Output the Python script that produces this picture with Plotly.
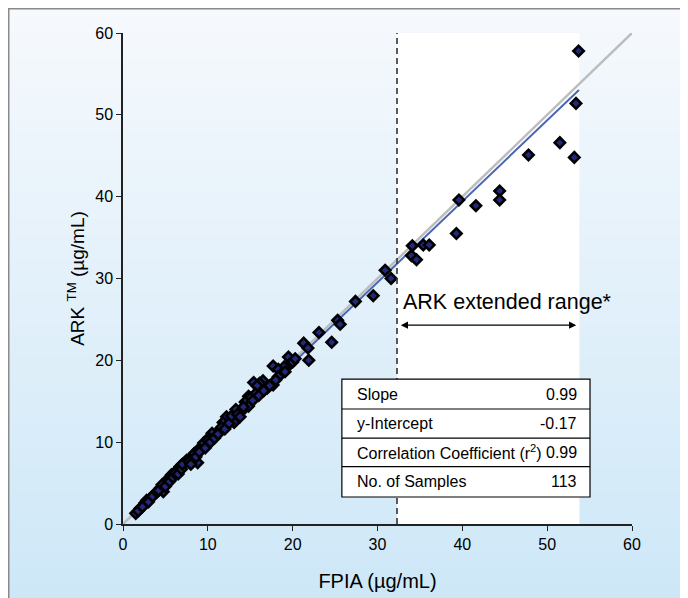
import plotly.graph_objects as go

# ---- data ----
fpia = [53.7, 53.4, 51.5, 53.2, 47.8, 39.6, 41.6, 44.4, 44.4, 39.3, 34.1, 35.4, 36.1, 34.0, 34.6,
        30.9, 31.6, 29.5, 27.4, 25.3, 25.6, 23.1, 24.6, 21.3, 21.8, 21.9,
        19.5, 19.7, 19.0, 17.7, 18.3, 18.7, 18.3, 17.7, 16.5, 16.1, 17.0, 15.4, 15.8, 14.8, 15.6,
        15.0, 14.4, 14.8, 14.1, 13.3,
        12.2, 13.1, 11.8, 11.4, 11.0, 10.5, 10.1, 9.9, 9.3, 8.8, 8.8, 8.1, 7.5, 7.2, 6.7, 6.3, 5.7,
        5.3, 5.1, 4.75, 4.4, 3.8, 3.2, 2.6, 2.0, 1.5,
        1.8, 2.3, 2.8, 3.0, 3.5, 4.0, 4.2, 4.6, 5.0, 5.5, 5.9, 6.1, 6.5, 6.9, 7.0, 7.8, 8.0, 8.4,
        8.6, 9.0, 9.5, 9.7, 10.0, 10.3, 10.8, 11.2, 11.6, 12.0, 12.5, 12.8, 13.5, 13.8, 14.2, 15.3,
        16.0, 16.6, 17.3, 18.0, 19.1, 20.0, 20.3]
ark = [57.8, 51.4, 46.6, 44.8, 45.1, 39.6, 38.9, 40.7, 39.6, 35.5, 34.0, 34.1, 34.1, 32.8, 32.3,
       31.0, 30.0, 27.9, 27.2, 24.9, 24.4, 23.4, 22.2, 22.1, 21.5, 20.0,
       20.4, 19.55, 19.2, 19.3, 18.9, 18.4, 18.0, 17.0, 17.5, 17.2, 16.6, 17.3, 16.9, 15.6, 15.9,
       15.4, 14.9, 14.4, 13.9, 14.0,
       13.1, 12.4, 12.4, 11.5, 10.9, 11.1, 10.5, 9.7, 9.25, 9.0, 7.5, 8.2, 7.8, 7.4, 7.0, 6.5, 6.0,
       5.5, 5.0, 3.95, 4.4, 3.75, 3.1, 2.6, 1.9, 1.3,
       1.6, 2.1, 2.9, 2.7, 3.4, 3.9, 4.1, 4.8, 4.6, 5.2, 5.7, 6.2, 6.1, 6.7, 7.3, 7.6, 7.3, 8.6,
       8.2, 8.8, 9.9, 9.3, 10.2, 10.0, 10.5, 11.0, 11.8, 11.6, 12.3, 13.2, 13.4, 13.1, 14.3, 15.1,
       15.7, 16.3, 16.9, 17.6, 18.6, 19.8, 20.2]

identity_x = [0, 60]
identity_y = [0, 60]
fit_x = [1.3, 53.75]
fit_y = [1.117, 53.04]

extended_range = [32.3, 53.8]

table_labels = ["Slope", "y-Intercept", "Correlation Coefficient (r<sup>2</sup>)", "No. of Samples"]
table_values = ["0.99", "-0.17", "0.99", "113"]

x_ticks = [0, 10, 20, 30, 40, 50, 60]
y_ticks = [0, 10, 20, 30, 40, 50, 60]

FONT = "Liberation Sans, Arial, sans-serif"

W, H = 688, 598
# page body adds an 8px offset; margins compensate so the plot lands where the reference has it
L, R, T, B = 115, 64, 25, 82
PW, PH = W - L - R, H - T - B

fig = go.Figure()

fig.add_trace(go.Scatter(x=identity_x, y=identity_y, mode="lines",
                         line=dict(color="#bdbdbd", width=2.5), hoverinfo="skip"))
fig.add_trace(go.Scatter(x=fit_x, y=fit_y, mode="lines",
                         line=dict(color="#4a67b5", width=2), hoverinfo="skip"))
fig.add_trace(go.Scatter(x=fpia, y=ark, mode="markers",
                         marker=dict(symbol="diamond", size=8, color="#23287a",
                                     line=dict(color="black", width=2.6)),
                         cliponaxis=False))

shapes = []
# background gradient (figure-wide bands)
top_c = (246, 249, 253)
bot_c = (205, 231, 247)
N = 150
py0 = -B / PH
py1 = 1 + T / PH
for i in range(N):
    f = i / (N - 1)
    c = tuple(round(bot_c[k] + (top_c[k] - bot_c[k]) * f) for k in range(3))
    y0 = py0 + (py1 - py0) * i / N
    y1 = py0 + (py1 - py0) * (i + 1) / N + 0.002
    shapes.append(dict(type="rect", xref="paper", yref="paper",
                       x0=-L / PW, x1=1 + R / PW, y0=y0, y1=y1,
                       fillcolor="rgb(%d,%d,%d)" % c, line=dict(width=0), layer="below"))
# white extended-range region
shapes.append(dict(type="rect", xref="x", yref="y", x0=extended_range[0], x1=extended_range[1],
                   y0=0, y1=60, fillcolor="white", line=dict(width=0), layer="below"))
# dashed line
shapes.append(dict(type="line", xref="x", yref="y", x0=extended_range[0], x1=extended_range[0],
                   y0=0, y1=60, line=dict(color="#333333", width=1.6, dash="6px,4px"), layer="above"))
# outer frame (left and top edges visible)
shapes.append(dict(type="rect", xref="paper", yref="paper",
                   x0=(0.75 - L) / PW, x1=1 + (R + 20) / PW,
                   y0=-(B + 20) / PH, y1=(H - B - 0.75) / PH,
                   line=dict(color="#8a8a8a", width=1.5), fillcolor="rgba(0,0,0,0)", layer="above"))

# table
tx0, tx1 = 25.8, 55.05
row_edges = [17.7, 14.05, 10.5, 7.0, 3.3]
shapes.append(dict(type="rect", xref="x", yref="y", x0=tx0, x1=tx1, y0=row_edges[-1], y1=row_edges[0],
                   fillcolor="white", line=dict(color="black", width=1.2), layer="above"))
for ye in row_edges[1:-1]:
    shapes.append(dict(type="line", xref="x", yref="y", x0=tx0, x1=tx1, y0=ye, y1=ye,
                       line=dict(color="black", width=1.2), layer="above"))

annotations = []
for i, (lab, val) in enumerate(zip(table_labels, table_values)):
    yc = (row_edges[i] + row_edges[i + 1]) / 2
    annotations.append(dict(x=27.35, y=yc, xref="x", yref="y", text=lab, showarrow=False,
                            xanchor="left", yanchor="middle",
                            font=dict(family=FONT, size=16, color="black")))
    annotations.append(dict(x=53.75, y=yc, xref="x", yref="y", text=val, showarrow=False,
                            xanchor="right", yanchor="middle",
                            font=dict(family=FONT, size=16, color="black")))

# extended range arrow + label
annotations.append(dict(x=32.75, y=24.3, ax=53.6, ay=24.3, xref="x", yref="y", axref="x", ayref="y",
                        text="", showarrow=True, arrowhead=2, startarrowhead=2, arrowside="end+start",
                        arrowsize=1.1, arrowwidth=1.3, arrowcolor="black"))
annotations.append(dict(x=45.3, y=27.1, xref="x", yref="y", text="ARK extended range*",
                        showarrow=False, xanchor="center", yanchor="middle",
                        font=dict(family=FONT, size=21.5, color="black")))

fig.update_layout(
    width=W, height=H,
    margin=dict(l=L, r=R, t=T, b=B),
    paper_bgcolor="white", plot_bgcolor="rgba(0,0,0,0)",
    showlegend=False,
    shapes=shapes, annotations=annotations,
    font=dict(family=FONT, color="black"),
    xaxis=dict(range=[0, 60], tickvals=x_ticks, showgrid=False, zeroline=False,
               showline=True, linecolor="#222", linewidth=1.5,
               ticks="outside", ticklen=5, tickcolor="#222", tickwidth=1.3,
               tickfont=dict(family=FONT, size=16, color="black"),
               title=dict(text="FPIA (µg/mL)", font=dict(family=FONT, size=20, color="black"),
                          standoff=22)),
    yaxis=dict(range=[0, 60], tickvals=y_ticks, showgrid=False, zeroline=False,
               showline=True, linecolor="#222", linewidth=1.5,
               ticks="outside", ticklen=5, tickcolor="#222", tickwidth=1.3,
               tickfont=dict(family=FONT, size=16, color="black"),
               title=dict(text="ARK <sup>TM</sup> (µg/mL)", font=dict(family=FONT, size=19, color="black"),
                          standoff=6)),
)

fig.write_html("out.html")
